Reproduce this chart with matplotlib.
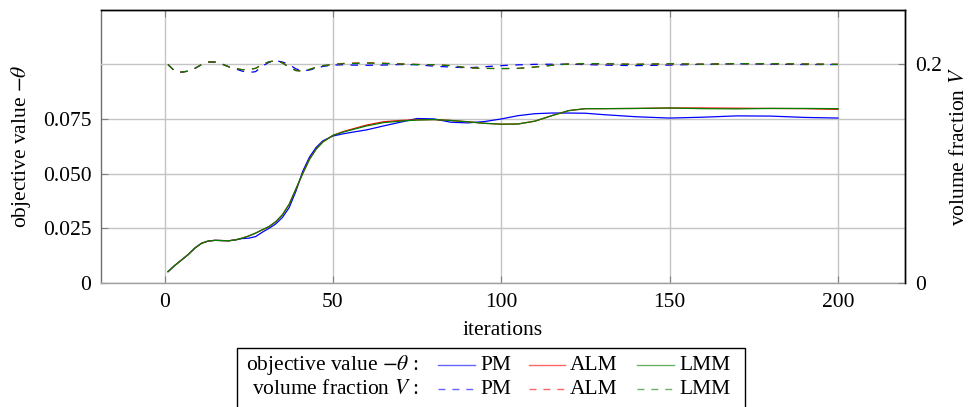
import matplotlib
matplotlib.use("Agg")
import matplotlib.pyplot as plt
from matplotlib.lines import Line2D
from matplotlib.patches import Rectangle

plt.rcParams["font.family"] = ["Liberation Serif", "DejaVu Serif"]
plt.rcParams["mathtext.fontset"] = "stix"
FS = 15.5

# ---- data -------------------------------------------------------------
iterations = [1, 3, 5, 7, 9, 11, 13, 15, 17, 19, 21, 23, 25, 27, 29, 31, 33, 35,
              37, 39, 41, 43, 45, 47, 50, 53, 56, 60, 65, 70, 75, 80, 85, 90, 95,
              100, 105, 110, 115, 120, 125, 130, 140, 150, 160, 170, 180, 190, 200]

obj_pm = [0.0052, 0.0080, 0.0105, 0.0130, 0.0160, 0.0182, 0.0192, 0.0195, 0.0194,
          0.0193, 0.0197, 0.0203, 0.0205, 0.0212, 0.0232, 0.0250, 0.0270, 0.0300,
          0.0345, 0.0420, 0.0510, 0.0575, 0.0620, 0.0650, 0.0672, 0.0682, 0.0690,
          0.0700, 0.0718, 0.0735, 0.0752, 0.0750, 0.0735, 0.0732, 0.0738, 0.0750,
          0.0765, 0.0774, 0.0777, 0.0777, 0.0776, 0.0770, 0.0760, 0.0754, 0.0758,
          0.0764, 0.0763, 0.0757, 0.0754]

obj_alm = [0.0052, 0.0080, 0.0105, 0.0130, 0.0160, 0.0182, 0.0192, 0.0195, 0.0194,
           0.0193, 0.0197, 0.0205, 0.0215, 0.0228, 0.0243, 0.0258, 0.0280, 0.0312,
           0.0360, 0.0430, 0.0500, 0.0565, 0.0612, 0.0645, 0.0675, 0.0692, 0.0705,
           0.0722, 0.0737, 0.0743, 0.0746, 0.0747, 0.0743, 0.0737, 0.0730, 0.0726,
           0.0727, 0.0740, 0.0765, 0.0788, 0.0797, 0.0797, 0.0798, 0.0800, 0.0800,
           0.0799, 0.0798, 0.0797, 0.0794]

obj_lmm = [0.0052, 0.0080, 0.0105, 0.0130, 0.0160, 0.0182, 0.0192, 0.0195, 0.0194,
           0.0193, 0.0197, 0.0205, 0.0215, 0.0228, 0.0243, 0.0258, 0.0280, 0.0312,
           0.0360, 0.0430, 0.0500, 0.0565, 0.0612, 0.0645, 0.0675, 0.0690, 0.0702,
           0.0718, 0.0733, 0.0740, 0.0745, 0.0747, 0.0743, 0.0737, 0.0730, 0.0726,
           0.0727, 0.0740, 0.0765, 0.0788, 0.0797, 0.0797, 0.0798, 0.0800, 0.0797,
           0.0796, 0.0798, 0.0798, 0.0797]

vol_pm = [0.1995, 0.1935, 0.1925, 0.1935, 0.1960, 0.1995, 0.2018, 0.2018, 0.2000,
          0.1975, 0.1955, 0.1935, 0.1922, 0.1930, 0.1980, 0.2015, 0.2030, 0.2018,
          0.1995, 0.1955, 0.1938, 0.1945, 0.1960, 0.1978, 0.1990, 0.1993, 0.1990,
          0.1988, 0.1990, 0.1995, 0.1993, 0.1980, 0.1972, 0.1965, 0.1975, 0.1985,
          0.1992, 0.1997, 0.1998, 0.1998, 0.1995, 0.1990, 0.1985, 0.1990, 0.1997,
          0.2002, 0.1998, 0.1995, 0.1995]

vol_alm = [0.1995, 0.1935, 0.1925, 0.1935, 0.1960, 0.1995, 0.2018, 0.2018, 0.2000,
           0.1975, 0.1960, 0.1948, 0.1950, 0.1960, 0.1995, 0.2020, 0.2030, 0.2010,
           0.1970, 0.1940, 0.1935, 0.1950, 0.1970, 0.1985, 0.1995, 0.2005, 0.2008,
           0.2011, 0.2007, 0.2001, 0.1996, 0.1993, 0.1985, 0.1965, 0.1960, 0.1958,
           0.1960, 0.1972, 0.1988, 0.2000, 0.2003, 0.2002, 0.1997, 0.2002, 0.1998,
           0.2003, 0.2002, 0.2000, 0.1997]

vol_lmm = [0.1995, 0.1935, 0.1925, 0.1935, 0.1960, 0.1995, 0.2018, 0.2018, 0.2000,
           0.1975, 0.1960, 0.1948, 0.1950, 0.1960, 0.1995, 0.2020, 0.2030, 0.2010,
           0.1970, 0.1940, 0.1935, 0.1950, 0.1970, 0.1985, 0.1995, 0.2003, 0.2005,
           0.2008, 0.2005, 0.2000, 0.1995, 0.1993, 0.1985, 0.1965, 0.1960, 0.1958,
           0.1960, 0.1972, 0.1988, 0.2000, 0.2003, 0.2002, 0.1997, 0.2002, 0.1998,
           0.2003, 0.2002, 0.2000, 0.1997]

methods = ["PM", "ALM", "LMM"]
colors = ["#0000ff", "#ff0000", "#008000"]
obj_series = [obj_pm, obj_alm, obj_lmm]
vol_series = [vol_pm, vol_alm, vol_lmm]

x_ticks = [0, 50, 100, 150, 200]
obj_ticks = [0, 0.025, 0.05, 0.075]
obj_ticklabels = ["0", "0.025", "0.050", "0.075"]
vol_ticks = [0, 0.2]
vol_ticklabels = ["0", "0.2"]

# ---- figure -----------------------------------------------------------
W, H = 972, 407
fig = plt.figure(figsize=(W / 100, H / 100), dpi=100)


def fx(x):
    return x / W


def fy(y):
    return 1 - y / H


ax_left, ax_right, ax_top, ax_bottom = 101, 905, 10, 283
ax = fig.add_axes([fx(ax_left), fy(ax_bottom), fx(ax_right - ax_left),
                   (ax_bottom - ax_top) / H])
ax2 = ax.twinx()

LW = 0.9
grid_c = "#c4c4c4"

for vals, c in zip(vol_series, colors):
    ax2.plot(iterations, vals, color=c, lw=LW, linestyle=(0, (6, 6)))
for vals, c in zip(obj_series, colors):
    ax.plot(iterations, vals, color=c, lw=LW)

ax.set_xlim(-18.9, 219.9)
ax.set_ylim(0, 0.1248)
ax2.set_ylim(0, 0.2493)

ax.set_xticks(x_ticks)
ax.set_xticklabels([str(t) for t in x_ticks], fontsize=FS)
ax.set_yticks(obj_ticks)
ax.set_yticklabels(obj_ticklabels, fontsize=FS)
ax2.set_yticks(vol_ticks)
ax2.set_yticklabels(vol_ticklabels, fontsize=FS)

ax.grid(True, color=grid_c, lw=1.0)
ax.set_axisbelow(True)
# horizontal grid line of the right scale
for t in vol_ticks:
    ax2.axhline(t, color=grid_c, lw=1.0, zorder=0)

ax.tick_params(direction="in", length=5, color="#808080", pad=7,
               top=True, bottom=True, left=True, right=False)
ax2.tick_params(direction="in", length=5, color="#808080", pad=7)

ax.spines["left"].set_color("#707070")
ax.spines["bottom"].set_color("#a0a0a0")
for sp in ("top", "right"):
    ax.spines[sp].set_color("black")
ax2.spines["left"].set_visible(False)
ax2.spines["bottom"].set_visible(False)
ax2.spines["top"].set_color("black")
ax2.spines["right"].set_color("black")
for a in (ax, ax2):
    for sp in a.spines.values():
        sp.set_linewidth(1.0)

ax.set_xlabel("iterations", fontsize=FS, labelpad=7)
ax.set_ylabel(r"objective value $-\theta$", fontsize=FS, labelpad=7)
ax2.set_ylabel(r"volume fraction $V$", fontsize=FS, labelpad=6)

# ---- legend -----------------------------------------------------------
fig.patches.append(Rectangle((fx(237), fy(420)), fx(745 - 237), (420 - 348) / H,
                             transform=fig.transFigure, fill=False,
                             edgecolor="black", lw=1.0))
rows = [(r"objective value $-\theta$ :", 365, "-"),
        (r"volume fraction $V$ :", 389, (0, (5, 5)))]
line_x = [(438, 475), (529, 565), (637, 674)]
for label, yc, ls in rows:
    fig.text(fx(419), fy(yc), label, ha="right", va="center", fontsize=FS)
    for (x0, x1), name, c in zip(line_x, methods, colors):
        fig.add_artist(Line2D([fx(x0), fx(x1)], [fy(yc), fy(yc)],
                              transform=fig.transFigure, color=c, lw=1.0,
                              alpha=0.6, linestyle=ls))
        fig.text(fx(x1 + 5), fy(yc), name, ha="left", va="center", fontsize=FS)

fig.savefig("out.png", dpi=100)
